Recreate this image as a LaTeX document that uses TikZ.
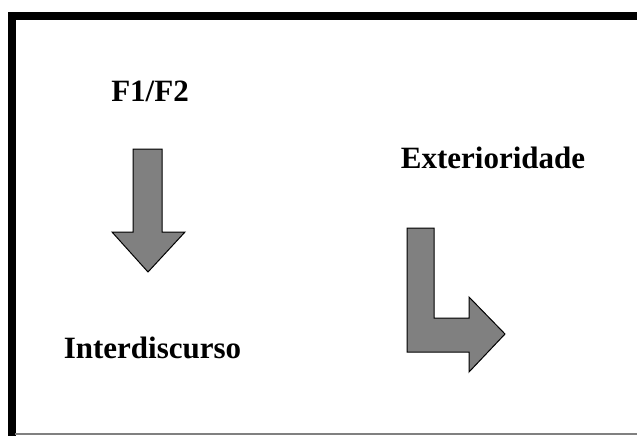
\documentclass[tikz,border=0pt]{standalone}
\usepackage{fontspec}
\setmainfont{Liberation Serif}
\usepackage{tikz}

\begin{document}
\begin{tikzpicture}[x=1pt, y=-1pt,
			label/.style={anchor=base, font=\fontsize{31}{37}\selectfont\bfseries, inner sep=0pt},
			blockarrow/.style={fill=gray, draw=black, line width=1pt, line join=miter}
		]
		\useasboundingbox (0,0) rectangle (637,436);

		% frame
		\draw[line width=8pt] (11.5,436) -- (11.5,16) -- (637,16);
		\draw[gray, line width=1.2pt] (15,434) -- (637,434);

		\node[label] (f) at (150,101) {F1/F2};
		\node[label] (ext) at (493,168) {Exterioridade};
		\node[label] (inter) at (152.5,358) {Interdiscurso};

		% down arrow
		\draw[blockarrow] (133,149) -- (162,149) -- (162,232) -- (185,232) -- (148,272)
			-- (112,232) -- (133,232) -- cycle;

		% bent arrow
		\draw[blockarrow] (407,228) -- (434,228) -- (434,318) -- (469,318) -- (469,297)
			-- (505,334) -- (469,372) -- (469,352) -- (407,352) -- cycle;
	\end{tikzpicture}
\end{document}
